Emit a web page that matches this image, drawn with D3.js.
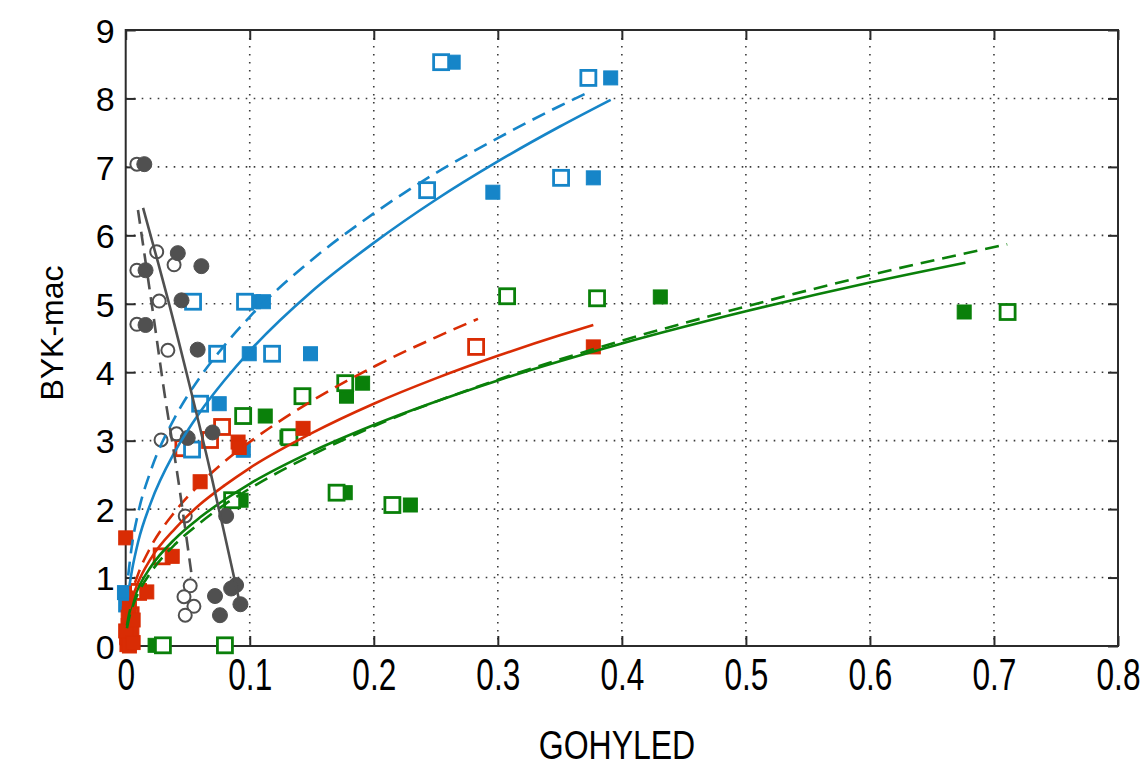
<!DOCTYPE html>
<html>
<head>
<meta charset="utf-8">
<script src="https://cdn.jsdelivr.net/npm/d3@7"></script>
<style>
  html, body { margin: 0; padding: 0; background: #ffffff; }
  svg { display: block; }
  text { font-family: "Liberation Sans", Arial, sans-serif; fill: #000; }
</style>
</head>
<body>
<svg id="chart" width="1145" height="767"></svg>
<script>
// ---------------- data ----------------
const xTicks = [0, 0.1, 0.2, 0.3, 0.4, 0.5, 0.6, 0.7, 0.8];
const xTickLabels = ["0", "0.1", "0.2", "0.3", "0.4", "0.5", "0.6", "0.7", "0.8"];
const yTicks = [0, 1, 2, 3, 4, 5, 6, 7, 8, 9];
const yTickLabels = ["0", "1", "2", "3", "4", "5", "6", "7", "8", "9"];
const xTitle = "GOHYLED";
const yTitle = "BYK-mac";

const blueOpen = [[0.2543, 8.53], [0.373, 8.30], [0.243, 6.66], [0.351, 6.84], [0.0543, 5.03],
  [0.0962, 5.03], [0.0737, 4.27], [0.118, 4.27], [0.060, 3.54], [0.0535, 2.87]];
const blueFilled = [[0.264, 8.53], [0.391, 8.30], [0.296, 6.63], [0.377, 6.84], [0.103, 5.03],
  [0.111, 5.03], [0.0996, 4.27], [0.149, 4.27], [0.0754, 3.54], [0.0948, 2.86], [-0.001, 0.78], [0.0, 0.60]];

const redOpen = [[0.2825, 4.37], [0.0465, 2.89], [0.068, 3.01], [0.0777, 3.20], [0.029, 1.31],
  [0.010, 0.79], [0.004, 0.45], [0.002, 0.15]];
const redFilled = [[0.377, 4.37], [0.143, 3.18], [0.0906, 2.98], [0.0915, 2.90], [0.060, 2.40],
  [0.0375, 1.31], [0.017, 0.79], [0.0, 1.58], [0.001, 0.02], [0.002, 0.30], [0.003, 0.55],
  [0.001, 0.12], [0.004, 0.08], [0.002, 0.42], [0.005, 0.25], [0.0, 0.22], [0.003, 0.0],
  [0.006, 0.38], [0.006, 0.05]];

const greenOpen = [[0.711, 4.88], [0.380, 5.08], [0.3075, 5.11], [0.177, 3.84], [0.1425, 3.65],
  [0.0947, 3.36], [0.132, 3.05], [0.0858, 2.13], [0.170, 2.24], [0.215, 2.06], [0.030, 0.01], [0.080, 0.01]];
const greenFilled = [[0.676, 4.88], [0.431, 5.10], [0.191, 3.84], [0.178, 3.65], [0.1125, 3.36],
  [0.130, 3.05], [0.093, 2.13], [0.177, 2.24], [0.2295, 2.06], [0.0237, 0.01]];

const grayOpen = [[0.009, 7.04], [0.009, 5.49], [0.025, 5.76], [0.039, 5.57], [0.027, 5.04],
  [0.009, 4.70], [0.034, 4.32], [0.0285, 3.01], [0.041, 3.10], [0.048, 1.90],
  [0.052, 0.88], [0.047, 0.72], [0.055, 0.58], [0.048, 0.45]];
const grayFilled = [[0.015, 7.04], [0.016, 5.49], [0.042, 5.74], [0.061, 5.55], [0.045, 5.05],
  [0.016, 4.69], [0.058, 4.33], [0.050, 3.04], [0.070, 3.12], [0.081, 1.90],
  [0.089, 0.89], [0.072, 0.73], [0.0925, 0.61], [0.076, 0.45], [0.085, 0.84]];

// fitted curves
const blueSolid = [[0.003, 0.88], [0.005, 1.10], [0.01, 1.52], [0.02, 2.08], [0.04, 2.85], [0.06, 3.42],
  [0.08, 3.89], [0.1, 4.31], [0.15, 5.18], [0.2, 5.89], [0.25, 6.52], [0.3, 7.08], [0.35, 7.59], [0.391, 7.98]];
const blueDashed = [[0.002, 1.03], [0.005, 1.47], [0.01, 1.94], [0.02, 2.55], [0.04, 3.35], [0.06, 3.93],
  [0.08, 4.40], [0.1, 4.81], [0.15, 5.64], [0.2, 6.32], [0.25, 6.91], [0.3, 7.42], [0.35, 7.89], [0.372, 8.08]];
const redSolid = [[0.003, 0.54], [0.005, 0.68], [0.01, 0.93], [0.02, 1.27], [0.04, 1.72], [0.06, 2.07],
  [0.08, 2.35], [0.1, 2.60], [0.15, 3.11], [0.2, 3.54], [0.25, 3.91], [0.3, 4.24], [0.35, 4.54], [0.377, 4.69]];
const redDashed = [[0.003, 0.61], [0.005, 0.77], [0.01, 1.05], [0.02, 1.44], [0.04, 1.97], [0.06, 2.37],
  [0.08, 2.70], [0.1, 2.98], [0.15, 3.58], [0.2, 4.08], [0.25, 4.51], [0.284, 4.78]];
const greenSolid = [[0.001, 0.30], [0.003, 0.49], [0.005, 0.61], [0.01, 0.84], [0.02, 1.15], [0.04, 1.57],
  [0.06, 1.88], [0.08, 2.14], [0.1, 2.37], [0.15, 2.84], [0.2, 3.23], [0.3, 3.88], [0.4, 4.42],
  [0.5, 4.89], [0.6, 5.31], [0.677, 5.60]];
const greenDashed = [[0.001, 0.26], [0.003, 0.43], [0.005, 0.55], [0.01, 0.77], [0.02, 1.07], [0.04, 1.49],
  [0.06, 1.80], [0.08, 2.07], [0.1, 2.30], [0.15, 2.79], [0.2, 3.21], [0.3, 3.89], [0.4, 4.46],
  [0.5, 4.96], [0.6, 5.42], [0.7107, 5.87]];
const graySolid = [[0.014, 6.40], [0.0341, 5.06], [0.0519, 3.78], [0.068, 2.57], [0.0923, 0.60]];
const grayDashed = [[0.0099, 6.37], [0.022, 4.87], [0.0317, 3.64], [0.042, 2.47], [0.0535, 0.99]];

// ---------------- styles ----------------
const BLUE = "#1685c8", RED = "#d92c04", GREEN = "#0a800a", GRAY = "#505050";

const svg = d3.select("#chart");
const M = { left: 125.7, top: 30, right: 1118, bottom: 646 };
const x = d3.scaleLinear().domain([0, 0.8]).range([M.left, M.right]);
const y = d3.scaleLinear().domain([0, 9]).range([M.bottom, M.top]);

// grid
const grid = svg.append("g");
grid.selectAll("line.vg").data(xTicks.slice(1, -1)).join("line")
  .attr("x1", d => x(d)).attr("x2", d => x(d)).attr("y1", M.top).attr("y2", M.bottom)
  .attr("stroke", "#3a3a3a").attr("stroke-width", 1.6).attr("stroke-dasharray", "1.6,6.4");
grid.selectAll("line.hg").data(yTicks.slice(1, -1)).join("line")
  .attr("y1", d => y(d)).attr("y2", d => y(d)).attr("x1", M.left).attr("x2", M.right)
  .attr("stroke", "#3a3a3a").attr("stroke-width", 1.6).attr("stroke-dasharray", "1.6,6.4");

// axes via d3 axis generators (inward ticks)
const tickLen = 10;
const axB = svg.append("g").attr("transform", `translate(0,${M.bottom})`)
  .call(d3.axisBottom(x).tickValues(xTicks).tickSize(-tickLen).tickFormat((d, i) => xTickLabels[i]));
const axT = svg.append("g").attr("transform", `translate(0,${M.top})`)
  .call(d3.axisTop(x).tickValues(xTicks).tickSize(-tickLen).tickFormat(""));
const axL = svg.append("g").attr("transform", `translate(${M.left},0)`)
  .call(d3.axisLeft(y).tickValues(yTicks).tickSize(-tickLen).tickFormat((d, i) => yTickLabels[i]));
const axR = svg.append("g").attr("transform", `translate(${M.right},0)`)
  .call(d3.axisRight(y).tickValues(yTicks).tickSize(-tickLen).tickFormat(""));
[axB, axT, axL, axR].forEach(a => {
  a.select(".domain").remove();
  a.selectAll(".tick line").attr("stroke", "#2b2b2b").attr("stroke-width", 2);
});
axB.selectAll(".tick text").attr("font-size", 34).attr("fill", "#000")
  .attr("y", 0).attr("dy", 0)
  .attr("transform", "translate(0,44) scale(0.93,1.28)")
  .attr("font-family", "Liberation Sans, Arial, sans-serif");
axL.selectAll(".tick text").attr("font-size", 34).attr("fill", "#000")
  .attr("x", -11).attr("dy", "0.36em")
  .attr("font-family", "Liberation Sans, Arial, sans-serif");

// box
svg.append("rect").attr("x", M.left).attr("y", M.top)
  .attr("width", M.right - M.left).attr("height", M.bottom - M.top)
  .attr("fill", "none").attr("stroke", "#2b2b2b").attr("stroke-width", 2);

// titles
svg.append("text").attr("transform", `translate(617,759) scale(1,1.25)`)
  .attr("text-anchor", "middle").attr("font-size", 32).text(xTitle);
svg.append("text").attr("transform", `translate(63,333) rotate(-90)`)
  .attr("text-anchor", "middle").attr("font-size", 32).text(yTitle);

const plot = svg.append("g");

const line = d3.line().x(d => x(d[0])).y(d => y(d[1])).curve(d3.curveMonotoneX);
const lineLin = d3.line().x(d => x(d[0])).y(d => y(d[1])).curve(d3.curveCatmullRom);

function drawLine(data, color, dashed, gen) {
  plot.append("path").datum(data).attr("d", gen || line)
    .attr("fill", "none").attr("stroke", color).attr("stroke-width", 2.6)
    .attr("stroke-dasharray", dashed ? "14,8" : null);
}
function squares(data, color, filled, size) {
  plot.append("g").selectAll("rect").data(data).join("rect")
    .attr("x", d => x(d[0]) - size / 2).attr("y", d => y(d[1]) - size / 2)
    .attr("width", size).attr("height", size)
    .attr("fill", filled ? color : "#fff").attr("stroke", color)
    .attr("stroke-width", filled ? 1 : 2.8);
}
function circles(data, color, filled) {
  plot.append("g").selectAll("circle").data(data).join("circle")
    .attr("cx", d => x(d[0])).attr("cy", d => y(d[1]))
    .attr("r", filled ? 7.5 : 6.5)
    .attr("fill", filled ? color : "#fff").attr("stroke", color)
    .attr("stroke-width", filled ? 1 : 2);
}

// markers
squares(greenFilled, GREEN, true, 14);
squares(greenOpen, GREEN, false, 15);
squares(blueFilled, BLUE, true, 14);
squares(redOpen, RED, false, 15);
squares(redFilled, RED, true, 14);
squares(blueOpen, BLUE, false, 15);
circles(grayOpen, GRAY, false);
circles(grayFilled, GRAY, true);

// curves
drawLine(greenDashed, GREEN, true);
drawLine(greenSolid, GREEN, false);
drawLine(redDashed, RED, true);
drawLine(redSolid, RED, false);
drawLine(blueDashed, BLUE, true);
drawLine(blueSolid, BLUE, false);
drawLine(grayDashed, GRAY, true, lineLin);
drawLine(graySolid, GRAY, false, lineLin);
</script>
</body>
</html>
